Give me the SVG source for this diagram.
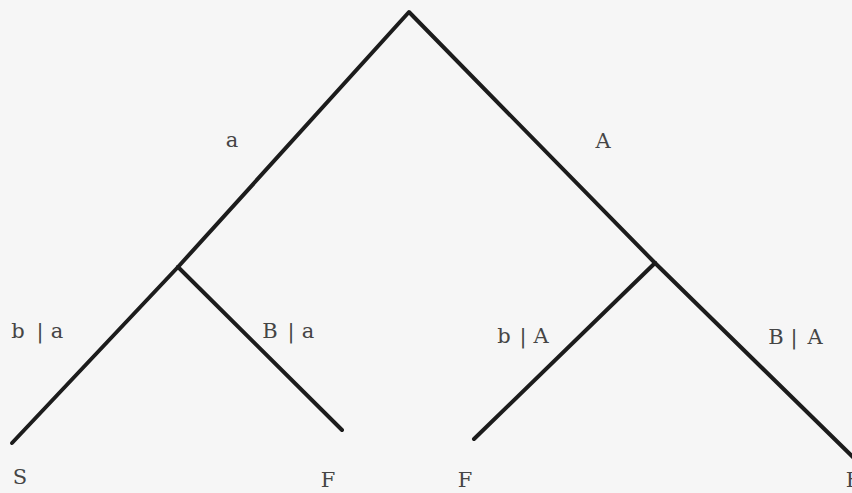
<svg xmlns="http://www.w3.org/2000/svg" width="852" height="493" viewBox="0 0 852 493">
<style>
.e{stroke:#1c1c1c;stroke-width:4;fill:none;stroke-linecap:round;stroke-linejoin:round}
.t{font-family:"DejaVu Serif","Liberation Serif",serif;font-size:21px;fill:#454545;text-anchor:middle}
</style>
<rect width="852" height="493" fill="#f6f6f6"/>
<g id="connectors">
<path class="e" d="M178,267 L409,12 L655,263"/>
<path class="e" d="M178,267 L12,443"/>
<path class="e" d="M178,267 L342,430"/>
<path class="e" d="M655,263 L474,439"/>
<path class="e" d="M655,263 L860,464"/>
</g>
<g id="edge-labels">
<text class="t" x="232" y="147">a</text>
<text class="t" x="603" y="148">A</text>
<text class="t" x="18 40 57" y="338">b|a</text>
<text class="t" x="270 291 308" y="338">B|a</text>
<text class="t" x="504 523 541" y="343">b|A</text>
<text class="t" x="776 794 815" y="344">B|A</text>
</g>
<g id="leaf-S"><text class="t" x="20" y="484">S</text></g>
<g id="leaf-F1"><text class="t" x="328" y="487">F</text></g>
<g id="leaf-F2"><text class="t" x="465" y="487">F</text></g>
<g id="leaf-F3"><text class="t" x="853" y="487">F</text></g>
</svg>
